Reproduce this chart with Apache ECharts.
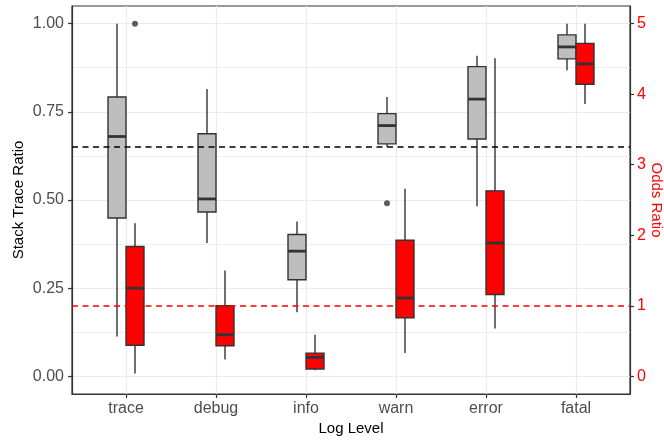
<!DOCTYPE html>
<html>
<head>
<meta charset="utf-8">
<script src="https://cdn.jsdelivr.net/npm/echarts@6/dist/echarts.min.js"></script>
<style>
  html, body { margin: 0; padding: 0; background: #fff; }
  #chart { width: 664px; height: 443px; }
</style>
</head>
<body>
<div id="chart"></div>
<script>
// log levels on the x axis
var categories = ['trace', 'debug', 'info', 'warn', 'error', 'fatal']

// stack trace ratio boxes: [lower whisker, Q1, median, Q3, upper whisker]
var traceRatioBoxes = [
  [0.113, 0.449, 0.680, 0.792, 1.000],
  [0.378, 0.466, 0.503, 0.688, 0.815],
  [0.182, 0.274, 0.355, 0.402, 0.439],
  [0.651, 0.659, 0.711, 0.745, 0.792],
  [0.482, 0.673, 0.786, 0.878, 0.909],
  [0.868, 0.900, 0.934, 0.968, 1.000]
]
// [category index, value]
var traceRatioOutliers = [[3, 0.491]]

// odds ratio boxes: [lower whisker, Q1, median, Q3, upper whisker]
var oddsBoxes = [
  [0.04, 0.44, 1.25, 1.84, 2.17],
  [0.24, 0.435, 0.59, 1.00, 1.50],
  [0.085, 0.105, 0.27, 0.33, 0.59],
  [0.33, 0.83, 1.11, 1.93, 2.66],
  [0.68, 1.16, 1.89, 2.63, 4.51],
  [3.86, 4.14, 4.43, 4.72, 5.00]
]
var oddsOutliers = [[0, 5.0]]

// reference lines
var traceRatioRef = 0.65
var oddsRef = 1

// axis ticks
var leftTicks = [0, 0.25, 0.5, 0.75, 1]
var leftMinor = [0.125, 0.375, 0.625, 0.875]
var rightTicks = [0, 1, 2, 3, 4, 5]

var BOX_W = 0.2
var DODGE = 0.1
var INK = '#333333'
var FONT = 'Liberation Sans'

function boxItem(fill) {
  return function (params, api) {
    var x = api.value(0)
    var lo = api.coord([x, api.value(1)])
    var q1 = api.coord([x, api.value(2)])
    var md = api.coord([x, api.value(3)])
    var q3 = api.coord([x, api.value(4)])
    var hi = api.coord([x, api.value(5)])
    var w = api.size([BOX_W, 0])[0]
    var ls = { stroke: INK, lineWidth: 1.4 }
    return {
      type: 'group',
      children: [
        { type: 'line', shape: { x1: hi[0], y1: hi[1], x2: q3[0], y2: q3[1] }, style: ls },
        { type: 'line', shape: { x1: q1[0], y1: q1[1], x2: lo[0], y2: lo[1] }, style: ls },
        {
          type: 'rect',
          shape: { x: q3[0] - w / 2, y: q3[1], width: w, height: q1[1] - q3[1] },
          style: { fill: fill, stroke: INK, lineWidth: 1.4 }
        },
        { type: 'line', shape: { x1: md[0] - w / 2, y1: md[1], x2: md[0] + w / 2, y2: md[1] }, style: { stroke: INK, lineWidth: 2.8 } }
      ]
    }
  }
}

function dodge(boxes, off) {
  return boxes.map(function (b, i) { return [i + off].concat(b) })
}
function dodgePts(pts, off) {
  return pts.map(function (p) { return [p[0] + off, p[1]] })
}

var chart = echarts.init(document.getElementById('chart'))
chart.setOption({
  animation: false,
  grid: {
    left: 72, right: 34, top: 6, bottom: 49,
    outerBoundsMode: 'none',
    containLabel: false,
    show: true, borderColor: INK, borderWidth: 1.2, backgroundColor: 'transparent'
  },
  xAxis: {
    type: 'value',
    min: -0.6,
    max: 5.6,
    name: 'Log Level',
    nameLocation: 'middle',
    nameGap: 27,
    nameMoveOverlap: false,
    nameTextStyle: { fontFamily: FONT, fontSize: 15, color: '#000' },
    axisLine: { onZero: false, lineStyle: { color: INK, width: 1.2 } },
    axisTick: { customValues: [0, 1, 2, 3, 4, 5], length: 4, lineStyle: { color: INK, width: 1.2 } },
    axisLabel: {
      customValues: [0, 1, 2, 3, 4, 5],
      margin: 7,
      fontFamily: FONT, fontSize: 16, color: '#4D4D4D',
      formatter: function (v) { return categories[Math.round(v)] }
    },
    splitLine: { show: true, lineStyle: { color: '#EBEBEB', width: 1.2 } }
  },
  yAxis: [
    {
      type: 'value',
      min: -0.05,
      max: 1.05,
      position: 'left',
      name: 'Stack Trace Ratio',
      nameLocation: 'middle',
      nameGap: 46,
      nameMoveOverlap: false,
      nameTextStyle: { fontFamily: FONT, fontSize: 15, color: '#000' },
      axisLine: { show: true, onZero: false, lineStyle: { color: INK, width: 1.2 } },
      axisTick: { show: true, customValues: leftTicks, length: 4, lineStyle: { color: INK, width: 1.2 } },
      axisLabel: {
        customValues: leftTicks,
        margin: 8,
        fontFamily: FONT, fontSize: 16, color: '#4D4D4D',
        formatter: function (v) { return v.toFixed(2) }
      },
      splitLine: { show: true, lineStyle: { color: '#EBEBEB', width: 1.2 } }
    },
    {
      type: 'value',
      min: -0.25,
      max: 5.25,
      position: 'right',
      name: 'Odds Ratio',
      nameLocation: 'middle',
      nameRotate: -90,
      nameGap: 19,
      nameMoveOverlap: false,
      nameTextStyle: { fontFamily: FONT, fontSize: 15, color: '#FF0000' },
      axisLine: { show: true, onZero: false, lineStyle: { color: INK, width: 1.2 } },
      axisTick: { show: true, customValues: rightTicks, length: 4, lineStyle: { color: INK, width: 1.2 } },
      axisLabel: {
        customValues: rightTicks,
        margin: 7,
        fontFamily: FONT, fontSize: 16, color: '#FF0000'
      },
      splitLine: { show: false }
    },
    {
      // minor gridlines only
      type: 'value',
      min: -0.05,
      max: 1.05,
      position: 'left',
      axisLine: { show: false, onZero: false },
      axisTick: { show: false, customValues: leftMinor },
      axisLabel: { show: false },
      splitLine: { show: true, lineStyle: { color: '#EFEFEF', width: 1 } }
    }
  ],
  series: [
    {
      type: 'scatter',
      yAxisIndex: 0,
      z: 1,
      symbolSize: 6,
      itemStyle: { color: INK },
      data: dodgePts(traceRatioOutliers, -DODGE),
      markLine: {
        silent: true,
        symbol: ['none', 'none'],
        label: { show: false },
        lineStyle: { color: '#000', type: [6, 4.5], width: 1.6 },
        data: [{ yAxis: traceRatioRef }]
      }
    },
    {
      type: 'scatter',
      yAxisIndex: 1,
      z: 1,
      symbolSize: 6,
      itemStyle: { color: INK },
      data: dodgePts(oddsOutliers, DODGE),
      markLine: {
        silent: true,
        symbol: ['none', 'none'],
        label: { show: false },
        lineStyle: { color: '#FF0000', type: [6, 4.5], width: 1.6 },
        data: [{ yAxis: oddsRef }]
      }
    },
    {
      type: 'custom',
      yAxisIndex: 0,
      z: 2,
      renderItem: boxItem('#BEBEBE'),
      encode: { x: 0, y: [1, 2, 3, 4, 5] },
      data: dodge(traceRatioBoxes, -DODGE)
    },
    {
      type: 'custom',
      yAxisIndex: 1,
      z: 2,
      renderItem: boxItem('#FF0000'),
      encode: { x: 0, y: [1, 2, 3, 4, 5] },
      data: dodge(oddsBoxes, DODGE)
    }
  ]
})
</script>
</body>
</html>
